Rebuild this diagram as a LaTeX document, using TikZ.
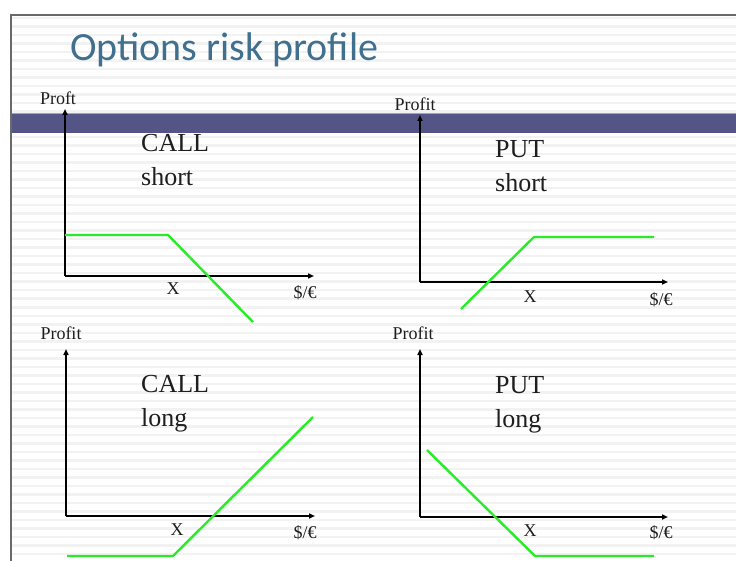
\documentclass[tikz,border=0pt]{standalone}
\usepackage{fontspec}
\setmainfont{Liberation Serif}
\newfontfamily\titlefont{Carlito}
\usetikzlibrary{arrows.meta}
\definecolor{framegray}{RGB}{105,105,105}
\definecolor{stripegray}{RGB}{242,242,242}
\definecolor{bandblue}{RGB}{84,84,134}
\definecolor{titleblue}{RGB}{64,112,142}
\definecolor{curvegreen}{RGB}{40,236,40}
\definecolor{inkdark}{RGB}{30,30,30}
\tikzset{
  axisline/.style={draw=black, line width=2pt, -{Triangle[length=6pt,width=5pt]}},
  payoff/.style={draw=curvegreen, line width=2.4pt, line join=round},
  axislabel/.style={inner sep=0pt, text=inkdark, font=\fontsize{18}{20}\selectfont},
  optlabel/.style={inner sep=0pt, text=inkdark, font=\fontsize{26}{34}\selectfont, align=left, anchor=north west},
}
\begin{document}
\begin{tikzpicture}[x=1pt, y=-1pt]
\useasboundingbox (0,0) rectangle (736,561);
\fill[white] (0,0) rectangle (736,561);

% striped slide background
\foreach \k in {0,...,64} {
  \fill[stripegray] (12,{17+8.5*\k}) rectangle (736,{19.5+8.5*\k});
}
% slide frame
\draw[framegray, line width=1.5pt] (11,561) -- (11,15) -- (736,15);

% title
\node[anchor=base west, inner sep=0pt, text=titleblue, font=\titlefont\fontsize{40}{44}\selectfont] (title) at (70,61) {Options risk profile};

% header band
\fill[bandblue] (11.7,113) rectangle (736,133);
\draw[gray!70, line width=0.8pt] (11.7,113) -- (736,113);

% ---- CALL short ----
\coordinate (o1) at (65,276);
\coordinate (y1) at (65,109);
\coordinate (x1) at (314,276);
\draw[axisline] (o1) -- (y1);
\draw[axisline] (o1) -- (x1);
\coordinate (a1) at (65,235);
\coordinate (k1) at (168,235);
\coordinate (e1) at (253,322);
\draw[payoff] (a1) -- (k1) -- (e1);
\node[axislabel] (p1) at (58,98) {Proft};
\node[optlabel] (t1) at (141,134) {CALL\\short};
\node[axislabel] (xs1) at (173,289) {X};
\node[axislabel] (c1) at (305,293) {\$/€};

% ---- PUT short ----
\coordinate (o2) at (420,282);
\coordinate (y2) at (420,115);
\coordinate (x2) at (668,282);
\draw[axisline] (o2) -- (y2);
\draw[axisline] (o2) -- (x2);
\coordinate (a2) at (461,309);
\coordinate (k2) at (534,237);
\coordinate (e2) at (654,237);
\draw[payoff] (a2) -- (k2) -- (e2);
\node[axislabel] (p2) at (415,104) {Profit};
\node[optlabel] (t2) at (495,140) {PUT\\short};
\node[axislabel] (xs2) at (530,297) {X};
\node[axislabel] (c2) at (661,300) {\$/€};

% ---- CALL long ----
\coordinate (o3) at (66,516);
\coordinate (y3) at (66,349);
\coordinate (x3) at (315,516);
\draw[axisline] (o3) -- (y3);
\draw[axisline] (o3) -- (x3);
\coordinate (a3) at (67,556);
\coordinate (k3) at (173,556);
\coordinate (e3) at (313,417);
\draw[payoff] (a3) -- (k3) -- (e3);
\node[axislabel] (p3) at (61,333) {Profit};
\node[optlabel] (t3) at (141,375) {CALL\\long};
\node[axislabel] (xs3) at (177,530) {X};
\node[axislabel] (c3) at (305,533) {\$/€};

% ---- PUT long ----
\coordinate (o4) at (420,517);
\coordinate (y4) at (420,349);
\coordinate (x4) at (668,517);
\draw[axisline] (o4) -- (y4);
\draw[axisline] (o4) -- (x4);
\coordinate (a4) at (427,450);
\coordinate (k4) at (535,556);
\coordinate (e4) at (654,556);
\draw[payoff] (a4) -- (k4) -- (e4);
\node[axislabel] (p4) at (413,333) {Profit};
\node[optlabel] (t4) at (495,376) {PUT\\long};
\node[axislabel] (xs4) at (530,531) {X};
\node[axislabel] (c4) at (661,533) {\$/€};
\end{tikzpicture}
\end{document}
